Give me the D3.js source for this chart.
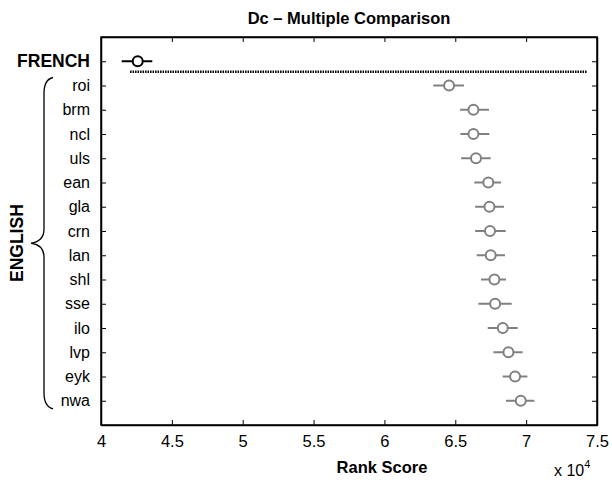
<!DOCTYPE html>
<html>
<head>
<meta charset="utf-8">
<script src="https://cdn.jsdelivr.net/npm/d3@7"></script>
<style>
  body { margin: 0; background: #fff; }
  text { font-family: "Liberation Sans", Arial, sans-serif; }
</style>
</head>
<body>
<div id="chart"></div>
<script>
// Group names (top to bottom) and estimated rank scores
const groups = ["FRENCH", "roi", "brm", "ncl", "uls", "ean", "gla", "crn", "lan", "shl", "sse", "ilo", "lvp", "eyk", "nwa"];
const means = [42590, 64560, 66280, 66280, 66460, 67330, 67410, 67450, 67500, 67760, 67810, 68350, 68750, 69220, 69620];
const lower = [41460, 63450, 65340, 65360, 65410, 66340, 66400, 66400, 66510, 66820, 66630, 67290, 67690, 68350, 68580];
const upper = [43620, 65620, 67380, 67400, 67500, 68230, 68440, 68560, 68510, 68580, 68980, 69400, 69750, 70090, 70580];
const groupColors = ["#000000", "#808080", "#808080", "#808080", "#808080", "#808080", "#808080", "#808080", "#808080", "#808080", "#808080", "#808080", "#808080", "#808080", "#808080"];
const xTicks = [40000, 45000, 50000, 55000, 60000, 65000, 70000, 75000];
const separator = [42050, 74300]; // dotted line under the comparison group

const margin = { top: 37, right: 15, bottom: 57, left: 101 },
      width = 612 - margin.left - margin.right,
      height = 482 - margin.top - margin.bottom;

const svg = d3.select("#chart")
  .append("svg")
  .attr("width", 612)
  .attr("height", 482);

const g = svg.append("g")
  .attr("transform", `translate(${margin.left},${margin.top})`);

const x = d3.scaleLinear().domain([40000, 75000]).range([0, width]);
const y = d3.scaleLinear().domain([0, groups.length + 1]).range([0, height]);

// Axes with inward ticks on all four sides
g.append("g")
  .attr("transform", `translate(0,${height})`)
  .call(d3.axisBottom(x).tickValues(xTicks).tickSizeInner(-5).tickSizeOuter(0)
    .tickPadding(10).tickFormat(d => d / 10000))
  .call(a => a.selectAll("text").attr("font-size", 16.5).attr("fill", "#000"));

g.append("g")
  .call(d3.axisTop(x).tickValues(xTicks).tickSizeInner(-5).tickSizeOuter(0).tickFormat(""));

const yTicks = d3.range(1, groups.length + 1);
g.append("g")
  .call(d3.axisLeft(y).tickValues(yTicks).tickSizeInner(-5).tickSizeOuter(0).tickFormat(""));
g.append("g")
  .attr("transform", `translate(${width},0)`)
  .call(d3.axisRight(y).tickValues(yTicks).tickSizeInner(-5).tickSizeOuter(0).tickFormat(""));

g.selectAll(".domain").attr("stroke", "#000").attr("stroke-width", 1.5);
g.selectAll(".tick line").attr("stroke", "#000");

// Frame
g.append("rect")
  .attr("width", width).attr("height", height)
  .attr("fill", "none").attr("stroke", "#000").attr("stroke-width", 1.5);

// Group labels
g.selectAll(".glabel")
  .data(groups)
  .enter().append("text")
  .attr("x", -11)
  .attr("y", (d, i) => y(i + 1))
  .attr("dy", "0.35em")
  .attr("text-anchor", "end")
  .attr("font-size", (d, i) => i === 0 ? 17.5 : 16)
  .attr("font-weight", (d, i) => i === 0 ? "bold" : "normal")
  .text(d => d);

// Dotted separator line
g.append("line")
  .attr("x1", x(separator[0])).attr("x2", x(separator[1]))
  .attr("y1", y(1.43)).attr("y2", y(1.43))
  .attr("stroke", "#000").attr("stroke-width", 2.5)
  .attr("stroke-dasharray", "1.5,1");

// Comparison intervals
g.selectAll(".ci")
  .data(groups)
  .enter().append("line")
  .attr("x1", (d, i) => x(lower[i]))
  .attr("x2", (d, i) => x(upper[i]))
  .attr("y1", (d, i) => y(i + 1))
  .attr("y2", (d, i) => y(i + 1))
  .attr("stroke", (d, i) => groupColors[i])
  .attr("stroke-width", 2);

g.selectAll(".mean")
  .data(groups)
  .enter().append("circle")
  .attr("cx", (d, i) => x(means[i]))
  .attr("cy", (d, i) => y(i + 1))
  .attr("r", 5)
  .attr("fill", "#fff")
  .attr("stroke", (d, i) => groupColors[i])
  .attr("stroke-width", 2);

// Brace for the ENGLISH group
const bx = -57, tipX = -70;
const yTop = y(2) - 8, yBot = y(groups.length) + 8, yMid = (y(2) + y(groups.length)) / 2;
const brace = d3.path();
brace.moveTo(bx + 9, yTop);
brace.quadraticCurveTo(bx, yTop + 2, bx, yTop + 16);
brace.lineTo(bx, yMid - 14);
brace.quadraticCurveTo(bx, yMid - 2, tipX, yMid);
brace.quadraticCurveTo(bx, yMid + 2, bx, yMid + 14);
brace.lineTo(bx, yBot - 16);
brace.quadraticCurveTo(bx, yBot - 2, bx + 9, yBot);
g.append("path")
  .attr("d", brace.toString())
  .attr("fill", "none")
  .attr("stroke", "#000")
  .attr("stroke-width", 1.3);

g.append("text")
  .attr("transform", `translate(${tipX - 8},${yMid}) rotate(-90)`)
  .attr("text-anchor", "middle")
  .attr("font-size", 17.5)
  .attr("font-weight", "bold")
  .text("ENGLISH");

// Title and axis labels
svg.append("text")
  .attr("x", margin.left + width / 2)
  .attr("y", 24)
  .attr("text-anchor", "middle")
  .attr("font-size", 16.5)
  .attr("font-weight", "bold")
  .text("Dc \u2013 Multiple Comparison");

svg.append("text")
  .attr("x", margin.left + width / 2 + 33)
  .attr("y", 473)
  .attr("text-anchor", "middle")
  .attr("font-size", 16.5)
  .attr("font-weight", "bold")
  .text("Rank Score");

const mult = svg.append("text")
  .attr("x", 554)
  .attr("y", 476)
  .attr("font-size", 16)
  .text("x 10");
mult.append("tspan")
  .attr("dy", -8)
  .attr("font-size", 11)
  .text("4");
</script>
</body>
</html>
